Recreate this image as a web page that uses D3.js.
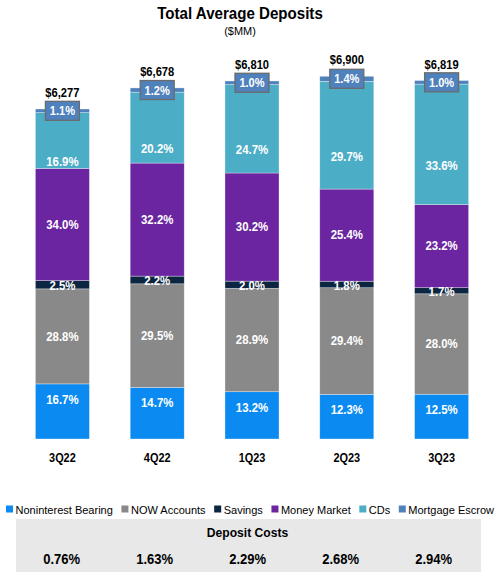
<!DOCTYPE html>
<html><head><meta charset="utf-8">
<script src="https://cdn.jsdelivr.net/npm/d3@7"></script>
<style>
body{margin:0;background:#fff}
svg{display:block}
text{font-family:"Liberation Sans",Arial,Helvetica,sans-serif}
</style>
</head><body>
<svg id="c" width="498" height="579"></svg>
<script>
// ---- data ----
const quarters = ["3Q22","4Q22","1Q23","2Q23","3Q23"];
const totals = [6277,6678,6810,6900,6819];
const totalLabels = ["$6,277","$6,678","$6,810","$6,900","$6,819"];
const seriesNames = ["Noninterest Bearing","NOW Accounts","Savings","Money Market","CDs","Mortgage Escrow"];
const noninterest = [16.7,14.7,13.2,12.3,12.5];
const nowAccounts = [28.8,29.5,28.9,29.4,28.0];
const savings = [2.5,2.2,2.0,1.8,1.7];
const moneyMarket = [34.0,32.2,30.2,25.4,23.2];
const cds = [16.9,20.2,24.7,29.7,33.6];
const mortgageEscrow = [1.1,1.2,1.0,1.4,1.0];
const depositCosts = [0.76,1.63,2.29,2.68,2.94];
const seriesColors = ["#0b8bf1","#898989","#0c2541","#6b25a0","#4badc6","#4f81bd"];

const seriesValues = [noninterest, nowAccounts, savings, moneyMarket, cds, mortgageEscrow];

const svg = d3.select("#c");

// horizontally condense text to a fraction of its natural width
function squeeze(sel, f) {
  sel.each(function(){
    const n = this.getComputedTextLength();
    d3.select(this).attr("textLength", n * f).attr("lengthAdjust","spacingAndGlyphs");
  });
}

// scales
const x = d3.scaleBand().domain(quarters).range([15, 489]).paddingInner(0.43).paddingOuter(0.215);
const y = d3.scaleLinear().domain([0, 7000]).range([439, 71]);
const pctFmt = d3.format(".1f");
const costFmt = d3.format(".2f");

// title
svg.append("text").attr("x", 240).attr("y", 19).attr("text-anchor","middle")
  .attr("font-size", "16.5px").attr("font-weight","bold").attr("fill","#000")
  .text("Total Average Deposits").call(squeeze, 0.915);
svg.append("text").attr("x", 240).attr("y", 35).attr("text-anchor","middle")
  .attr("font-size", "11.5px").attr("fill","#000")
  .text("($MM)").call(squeeze, 0.95);

// build stacked segments
const segs = [];
quarters.forEach((q, i) => {
  let cum = 0;
  seriesValues.forEach((arr, s) => {
    const v = totals[i] * arr[i] / 100;
    segs.push({q, i, s, pct: arr[i], y0: cum, y1: cum + v});
    cum += v;
  });
});

const g = svg.append("g");
g.selectAll("rect.seg").data(segs).join("rect")
  .attr("class","seg")
  .attr("x", d => x(d.q))
  .attr("width", x.bandwidth())
  .attr("y", d => y(d.y1))
  .attr("height", d => y(d.y0) - y(d.y1))
  .attr("fill", d => seriesColors[d.s])
  .attr("stroke", "#ffffff").attr("stroke-width", 0.6).attr("stroke-opacity", 0.55);

// segment labels (not mortgage escrow)
g.selectAll("text.seg").data(segs.filter(d => d.s < 5)).join("text")
  .attr("class","seg")
  .attr("x", d => x(d.q) + x.bandwidth()/2)
  .attr("y", d => {
    const top = y(d.y1), bot = y(d.y0), mid = (top + bot)/2;
    let c;
    if (d.s === 0) c = top + 15.5;
    else if (d.s === 2) c = mid + 1;
    else if (d.s === 4) c = mid + 21;
    else c = mid;
    return c + 4.3;
  })
  .attr("text-anchor","middle")
  .attr("font-size","12px").attr("font-weight","bold").attr("fill","#fff")
  .text(d => pctFmt(d.pct) + "%").call(squeeze, 0.95);

// mortgage escrow boxes
const me = segs.filter(d => d.s === 5);
const boxG = g.selectAll("g.me").data(me).join("g").attr("class","me")
  .attr("transform", d => `translate(${x(d.q) + x.bandwidth()/2},${(y(d.y0)+y(d.y1))/2})`);
boxG.append("rect").attr("x",-17).attr("y",-9.5).attr("width",34).attr("height",19)
  .attr("fill","#4f81bd").attr("stroke","#6b6b6b").attr("stroke-width",1.3);
boxG.append("text").attr("y", 4.6).attr("text-anchor","middle")
  .attr("font-size","13px").attr("font-weight","bold").attr("fill","#fff")
  .text(d => pctFmt(d.pct) + "%").call(squeeze, 0.85);

// total labels
g.selectAll("text.tot").data(quarters).join("text").attr("class","tot")
  .attr("x", q => x(q) + x.bandwidth()/2)
  .attr("y", (q, i) => y(totals[i]) - 12)
  .attr("text-anchor","middle")
  .attr("font-size","12px").attr("font-weight","bold").attr("fill","#000")
  .text((q, i) => totalLabels[i]).call(squeeze, 0.93);

// x axis
const ax = svg.append("g").attr("transform","translate(0,439)")
  .call(d3.axisBottom(x).tickSize(0).tickPadding(14));
ax.select(".domain").remove();
ax.selectAll("text").attr("font-size","12px").attr("font-weight","bold").attr("fill","#000")
  .style("font-family",'"Liberation Sans",Arial,sans-serif')
  .call(squeeze, 0.91);

// legend
const leg = svg.append("g");
const items = leg.selectAll("g").data(seriesNames).join("g");
items.append("rect").attr("width",7).attr("height",7).attr("y",505.5)
  .attr("fill",(d,i) => seriesColors[i]);
items.append("text").attr("x",9.5).attr("y",514).attr("font-size","11.6px").attr("fill","#000")
  .text(d => d).call(squeeze, 0.95);
const widths = [];
items.each(function(){ widths.push(9.5 + (+d3.select(this).select("text").attr("textLength"))); });
const totalW = d3.sum(widths);
const start = 6, end = 494;
const gap = (end - start - totalW) / (seriesNames.length - 1);
let cx = start;
items.each(function(d, i){ d3.select(this).attr("transform", `translate(${cx},0)`); cx += widths[i] + gap; });

// deposit costs panel
svg.append("rect").attr("x",16).attr("y",519).attr("width",465).attr("height",53).attr("fill","#e8e8e8");
svg.append("text").attr("x",247.5).attr("y",536.5).attr("text-anchor","middle")
  .attr("font-size","13px").attr("font-weight","bold").attr("fill","#000")
  .text("Deposit Costs").call(squeeze, 0.93);
const cxScale = d3.scalePoint().domain(quarters).range([61.7, 433.7]);
svg.selectAll("text.cost").data(depositCosts).join("text").attr("class","cost")
  .attr("x",(d,i) => cxScale(quarters[i])).attr("y",564)
  .attr("text-anchor","middle").attr("font-size","14px").attr("font-weight","bold").attr("fill","#000")
  .text(d => costFmt(d) + "%").call(squeeze, 0.93);
</script>
</body></html>
